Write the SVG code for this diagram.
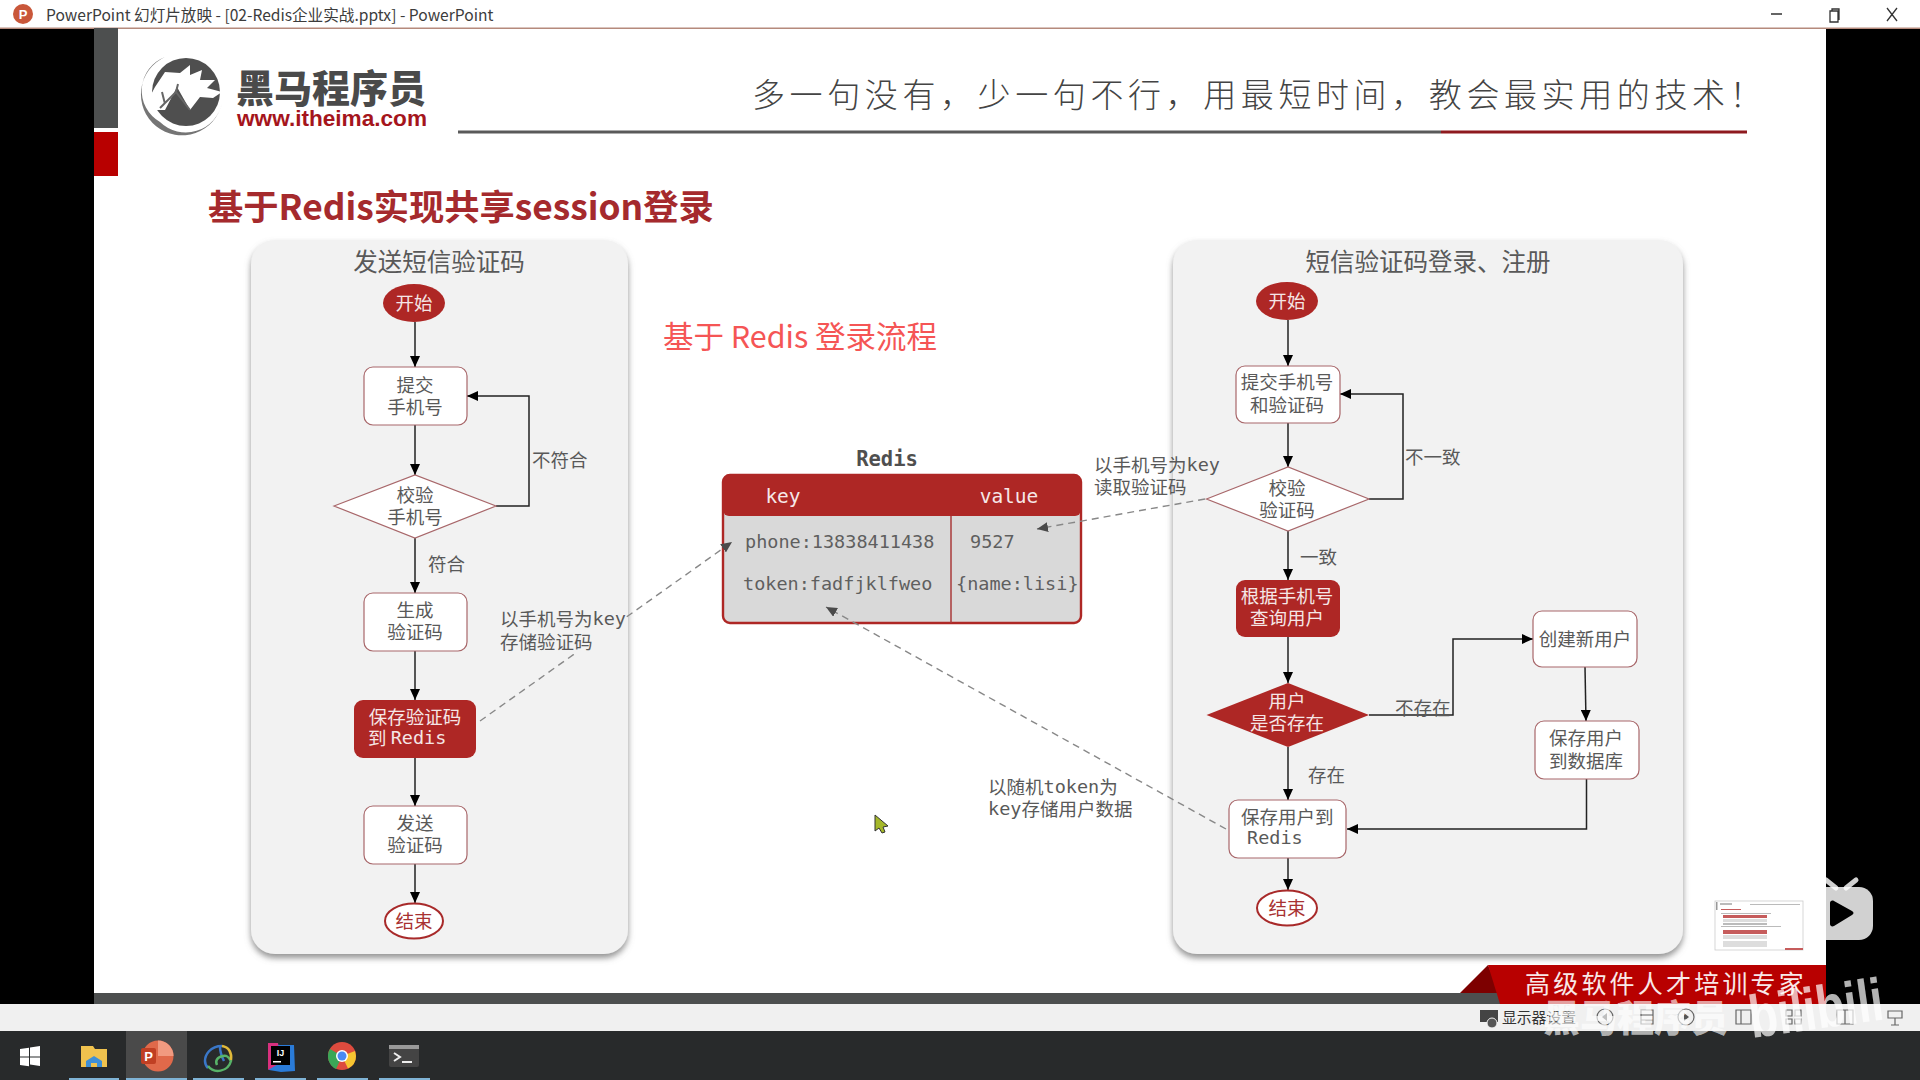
<svg xmlns="http://www.w3.org/2000/svg" width="1920" height="1080" viewBox="0 0 1920 1080">
<style>
text{font-family:"Liberation Sans","Noto Sans CJK SC",sans-serif}
.cjk{font-family:"Noto Sans CJK SC",sans-serif}
.m{text-anchor:middle;dominant-baseline:central}
.l{dominant-baseline:central}
.t{font-family:"Noto Sans CJK SC",sans-serif;font-size:18.5px;fill:#595959;transform:translateY(-1px)}
.w{fill:#f5e6e6}
.mono{font-family:"DejaVu Sans Mono",monospace;font-size:18.5px;fill:#5f5f5f;transform:translateY(-1px)}
.box{fill:#fff;stroke:#a8676a;stroke-width:1.2}
.red{fill:#ae2725}
.panel{fill:#f2f2f2;filter:url(#sh)}
.c{fill:none;stroke:#222;stroke-width:1.5}
.d{fill:none;stroke:#888;stroke-width:1.4;stroke-dasharray:7 5}
</style>
<defs>
<filter id="sh" x="-5%" y="-5%" width="110%" height="110%"><feDropShadow dx="0" dy="4" stdDeviation="3" flood-color="#777" flood-opacity=".8"/></filter>
<marker id="a" markerWidth="12" markerHeight="10" refX="11" refY="5" orient="auto" markerUnits="userSpaceOnUse"><path d="M0 0L11 5L0 10z" fill="#000"/></marker>
<marker id="g" markerWidth="12" markerHeight="10" refX="11" refY="5" orient="auto" markerUnits="userSpaceOnUse"><path d="M0 0L11 5L0 10z" fill="#4a4a4a"/></marker>
</defs>
<rect width="1920" height="1080" fill="#000"/>
<rect x="94" y="28" width="1732" height="965" fill="#fff"/>

<g id="titlebar">
<rect width="1920" height="28" fill="#fff"/>
<rect y="27.5" width="1920" height="1.5" fill="#b58a7c"/>
<circle cx="23" cy="14" r="10" fill="#c9573a"/>
<text x="23" y="14.5" class="m" font-size="13" font-weight="700" fill="#fff">P</text>
<text x="46" y="13.500" class="l cjk" font-size="15.6" fill="#3c3c3c">PowerPoint 幻灯片放映 - [02-Redis企业实战.pptx] - PowerPoint</text>
<path d="M1771 14h11M1830 11h8v11h-8zM1832 11v-2h7v11M1887 8l10 13M1897 8l-10 13" fill="none" stroke="#333" stroke-width="1.3"/>
</g>

<g id="slide-header">
<rect x="94" y="28" width="24" height="100" fill="#4d4f4f"/>
<rect x="94" y="132" width="24" height="44" fill="#b80000"/>
<g id="logo">
<path fill-rule="evenodd" d="M165 57A41 41 0 1 0 222 103A37 37 0 0 1 160 122A36 36 0 0 1 165 57z" fill="#757575"/>
<circle cx="186" cy="92" r="34" fill="#4f4f4f"/>
<path d="M147 102L155 87L165 72L180 73L190 65L190 75L202 70L200 80L215 80L207 88L222 92L213 98L200 97L190 110L177 87L165 110L150 110z" fill="#fff"/>
<path d="M160 108L176 92L178 84M176 92L190 110M165 104L162 92" fill="none" stroke="#666" stroke-width="2"/>
<text x="236" y="85" class="l cjk" font-size="38" font-weight="900" fill="#4a4a4a">黑马程序员</text>
<text x="237" y="118" class="l" font-size="22.600" font-weight="700" fill="#a5151c">www.itheima.com</text>
</g>
<text x="752" y="93" class="l cjk" font-size="33" font-weight="300" letter-spacing="4.600" fill="#444">多一句没有，少一句不行，用最短时间，教会最实用的技术！</text>
<rect x="458" y="130.500" width="983" height="3" fill="#5a5a5a"/>
<rect x="1441" y="130.500" width="306" height="3" fill="#8e1a1f"/>
<text x="208" y="204" class="l cjk" font-size="35.300" font-weight="700" fill="#a52a2d">基于Redis实现共享session登录</text>
</g>

<rect id="panel-left" x="251" y="240" width="377" height="714" rx="24" class="panel"/>
<rect id="panel-right" x="1173" y="240" width="510" height="714" rx="24" class="panel"/>

<text x="439" y="260" class="m cjk" font-size="24.500" fill="#595959">发送短信验证码</text>
<text x="1428" y="260" class="m cjk" font-size="24.500" fill="#595959">短信验证码登录、注册</text>
<text x="800" y="335" class="m cjk" font-size="30.500" fill="#f55555">基于 Redis 登录流程</text>

<g id="connectors">
<path class="c" marker-end="url(#a)" d="M415 322V367"/>
<path class="c" marker-end="url(#a)" d="M415 425V475"/>
<path class="c" marker-end="url(#a)" d="M496 506H529V396H467"/>
<path class="c" marker-end="url(#a)" d="M415 538V593"/>
<path class="c" marker-end="url(#a)" d="M415 651V700"/>
<path class="c" marker-end="url(#a)" d="M415 758V806"/>
<path class="c" marker-end="url(#a)" d="M415 864V903"/>
<path class="c" marker-end="url(#a)" d="M1288 320V366"/>
<path class="c" marker-end="url(#a)" d="M1288 423V467"/>
<path class="c" marker-end="url(#a)" d="M1369 499H1403V394H1340"/>
<path class="c" marker-end="url(#a)" d="M1288 531V580"/>
<path class="c" marker-end="url(#a)" d="M1288 637V683"/>
<path class="c" marker-end="url(#a)" d="M1369 715H1453V639H1533"/>
<path class="c" marker-end="url(#a)" d="M1288 747V800"/>
<path class="c" marker-end="url(#a)" d="M1585 667L1586 721"/>
<path class="c" marker-end="url(#a)" d="M1586.500 779V829H1347"/>
<path class="c" marker-end="url(#a)" d="M1288 858V890"/>
</g>

<g id="n-start1"><ellipse cx="414" cy="303" rx="31" ry="19" class="red"/><text x="414" y="303" class="m t w">开始</text></g>
<g id="n-submit1"><rect x="364" y="367" width="103" height="58" rx="9" class="box"/><text x="415" y="385" class="m t">提交</text><text x="415" y="407" class="m t">手机号</text></g>
<g id="n-check1"><path d="M334 506L415 475L496 506L415 538z" class="box"/><text x="415" y="495" class="m t">校验</text><text x="415" y="517" class="m t">手机号</text></g>
<g id="n-gen"><rect x="364" y="593" width="103" height="58" rx="9" class="box"/><text x="415" y="610" class="m t">生成</text><text x="415" y="632" class="m t">验证码</text></g>
<g id="n-save1"><rect x="354" y="700" width="122" height="58" rx="9" class="red"/><text x="415" y="717" class="m t w">保存验证码</text><text x="368" y="738" class="l t w">到 <tspan font-family="DejaVu Sans Mono">Redis</tspan></text></g>
<g id="n-send"><rect x="364" y="806" width="103" height="58" rx="9" class="box"/><text x="415" y="823" class="m t">发送</text><text x="415" y="845" class="m t">验证码</text></g>
<g id="n-end1"><ellipse cx="414" cy="921" rx="29" ry="17.500" fill="#fff" stroke="#a82a2a" stroke-width="2"/><text x="414" y="921" class="m t" style="fill:#a83232">结束</text></g>

<text x="529" y="460" class="l t" dx="3">不符合</text>
<text x="428" y="564" class="l t">符合</text>

<g id="redis">
<text x="887" y="460" class="m mono" font-weight="700" style="font-size:20.500px;fill:#4f4f4f">Redis</text>
<rect x="723" y="475" width="358" height="148" rx="7" fill="#d9d9d9" stroke="#ae2725" stroke-width="2.400"/>
<path d="M723 510V482a7 7 0 0 1 7-7h344a7 7 0 0 1 7 7v28a6 6 0 0 1-6 6H729a6 6 0 0 1-6-6z" class="red"/>
<path d="M951 516V623" stroke="#a83a3a" stroke-width="1.500"/>
<text x="783" y="497" class="m mono" style="font-size:19.500px;fill:#f6e8e8">key</text>
<text x="1009" y="497" class="m mono" style="font-size:19.500px;fill:#f6e8e8">value</text>
<text x="745" y="542" class="l mono">phone:13838411438</text>
<text x="743" y="584" class="l mono">token:fadfjklfweo</text>
<text x="970" y="542" class="l mono">9527</text>
<text x="956" y="584" class="l mono">{name:lisi}</text>
</g>

<g id="connectors-dashed">
<path class="d" marker-end="url(#g)" d="M480 721L732 542"/>
<path class="d" marker-end="url(#g)" d="M1205 499L1037 529"/>
<path class="d" marker-end="url(#g)" d="M1226 829L826 607"/>
</g>

<g id="label-store"><rect x="500" y="608" width="125" height="46" fill="#f2f2f2"/>
<text x="500" y="619" class="l t">以手机号为<tspan font-family="DejaVu Sans Mono">key</tspan></text><text x="500" y="642" class="l t">存储验证码</text></g>
<g id="label-read"><text x="1094" y="465" class="l t">以手机号为<tspan font-family="DejaVu Sans Mono">key</tspan></text><text x="1094" y="487" class="l t">读取验证码</text></g>
<g id="label-token"><text x="988" y="787" class="l t">以随机<tspan font-family="DejaVu Sans Mono">token</tspan>为</text><text x="988" y="809" class="l t"><tspan font-family="DejaVu Sans Mono">key</tspan>存储用户数据</text></g>

<g id="n-start2"><ellipse cx="1287" cy="301" rx="31" ry="19" class="red"/><text x="1287" y="301" class="m t w">开始</text></g>
<g id="n-submit2"><rect x="1236" y="366" width="104" height="57" rx="9" class="box"/><text x="1287" y="382" class="m t">提交手机号</text><text x="1287" y="405" class="m t">和验证码</text></g>
<g id="n-check2"><path d="M1206.500 499L1288 467L1369 499L1288 531z" class="box"/><text x="1287" y="488" class="m t">校验</text><text x="1287" y="510" class="m t">验证码</text></g>
<g id="n-query"><rect x="1236" y="580" width="104" height="57" rx="9" class="red"/><text x="1287" y="596" class="m t w">根据手机号</text><text x="1287" y="618" class="m t w">查询用户</text></g>
<g id="n-exists"><path d="M1206.500 715L1288 683L1369 715L1288 747z" class="red"/><text x="1287" y="701" class="m t w">用户</text><text x="1287" y="723" class="m t w">是否存在</text></g>
<g id="n-create"><rect x="1533" y="611" width="104" height="56" rx="9" class="box"/><text x="1585" y="639" class="m t">创建新用户</text></g>
<g id="n-savedb"><rect x="1535" y="721" width="104" height="58" rx="9" class="box"/><text x="1586" y="738" class="m t">保存用户</text><text x="1586" y="761" class="m t">到数据库</text></g>
<g id="n-save2"><rect x="1229" y="800" width="117" height="58" rx="9" class="box"/><text x="1241" y="817" class="l t">保存用户到</text><text x="1247" y="838" class="l t" style="font-family:'DejaVu Sans Mono'">Redis</text></g>
<g id="n-end2"><ellipse cx="1287" cy="908" rx="30" ry="17.500" fill="#fff" stroke="#a82a2a" stroke-width="2"/><text x="1287" y="908" class="m t" style="fill:#a83232">结束</text></g>
<text x="1405" y="457" class="l t">不一致</text>
<text x="1300" y="557" class="l t">一致</text>
<text x="1395" y="708" class="l t">不存在</text>
<text x="1308" y="775" class="l t">存在</text>

<g id="thumb"><rect x="1715" y="901" width="88" height="49" fill="#fff" stroke="#ccc" stroke-width=".8"/><rect x="1716" y="902" width="1.500" height="8" fill="#999"/><g fill="#bbb"><rect x="1720" y="903" width="12" height="2"/><rect x="1750" y="904" width="50" height="1"/><rect x="1721" y="913" width="50" height="1"/><rect x="1723" y="923" width="44" height="2"/><rect x="1721" y="926" width="60" height="1"/></g><g fill="#c65c5c"><rect x="1721" y="909" width="20" height="1"/><rect x="1723" y="915" width="44" height="3"/><rect x="1723" y="930" width="44" height="4"/><rect x="1785" y="948" width="18" height="2"/></g><g fill="#ddd"><rect x="1723" y="919" width="44" height="3"/><rect x="1723" y="935" width="44" height="4"/><rect x="1723" y="941" width="44" height="6"/></g></g>

<g id="footer">
<rect x="94" y="993" width="1732" height="11" fill="#4d4f4f"/>
<path d="M1460 993L1488 965L1500 993z" fill="#7d0000"/>
<path d="M1488 965H1826V1004H1500z" fill="#b80000"/>
<text x="1525" y="982" class="l cjk" font-size="25" letter-spacing="3.200" fill="#f8e8e8">高级软件人才培训专家</text>
</g>

<g id="status-bar">
<rect y="1004" width="1920" height="27" fill="#f0f0f0"/>
<path d="M1480 1010h18v12h-18z" fill="#444"/><circle cx="1492" cy="1023" r="5" fill="#555" stroke="#f0f0f0"/>
<text x="1502" y="1016" class="l cjk" font-size="14.800" fill="#333">显示器设置</text>
<g fill="none" stroke="#666" stroke-width="1.200">
<circle cx="1605" cy="1017" r="8"/><circle cx="1686" cy="1017" r="8"/>
<path d="M1641 1010h12v14h-12zM1641 1015h12M1641 1020h12M1736 1010h15v14h-15zM1741 1010v14M1786 1010h6v6h-6zM1795 1010h6v6h-6zM1786 1019h6v5h-6zM1795 1019h6v5h-6zM1837 1010h16v14h-16zM1845 1010v14M1888 1011h14v7h-14zM1895 1018v7M1891 1025h8"/>
</g>
<path d="M1602 1017l5-4v8zM1689 1017l-5-4v8z" fill="#555"/>
</g>

<g id="taskbar">
<rect y="1031" width="1920" height="49" fill="#282a2b"/>
<rect x="126" y="1031" width="61" height="49" fill="#4a4a4a"/>
<path d="M20 1049l9-1.300v8.800h-9zM30 1047.500l10-1.500v10.500h-10zM20 1057.500h9v8.700l-9-1.300zM30 1057.500h10v8.500l-10-1.500z" fill="#fff"/>
<path d="M81 1046h12l2 3h12v18H81z" fill="#f0c24e"/><path d="M86 1067v-6l8-5 8 5v6h-5v-4h-6v4z" fill="#3f8fd6"/>
<circle cx="158" cy="1056" r="15.500" fill="#e0694a"/><path d="M158 1056v-15.500a15.500 15.500 0 0 1 15.500 15.500z" fill="#f19a80"/><rect x="141" y="1048" width="15" height="16" rx="2" fill="#c03f23"/><text x="148.500" y="1056.500" class="m" font-size="13" font-weight="700" fill="#fff">P</text>
<g fill="none" stroke-width="2.500"><path d="M222 1046c-12 0-17 9-17 15 0 3 1 5 3 7" stroke="#3a77c8"/><path d="M220 1047c0 6 2 10 4 14" stroke="#3a77c8"/><path d="M208 1066c6 8 20 6 23-5-3-5-5-6-8-5-6 1-8 5-6 9" stroke="#58b368"/><path d="M222 1046c7 1 10 7 9 14" stroke="#e0b93a"/></g>
<path d="M268 1043l12 2 14 0 1 26-14 1-12-2z" fill="#2a7bd8"/><path d="M268 1043l10 0 2 20-12 7z" fill="#d8307e"/><rect x="271" y="1046" width="19" height="19" fill="#000"/><text x="280.500" y="1053" class="m" font-size="9" font-weight="700" fill="#fff">IJ</text><rect x="273" y="1061" width="8" height="1.500" fill="#fff"/>
<circle cx="342" cy="1056" r="14" fill="#dd4b3e"/><path d="M342 1056l-12-7a14 14 0 0 0 6 20z" fill="#3aa757"/><path d="M342 1056l6 12.600a14 14 0 0 0 8-12.600l-1-5z" fill="#f7c531"/><circle cx="342" cy="1056" r="6" fill="#fff"/><circle cx="342" cy="1056" r="4.500" fill="#4a8af4"/>
<rect x="389" y="1045" width="30" height="22" rx="2" fill="#444"/><rect x="389" y="1045" width="30" height="4" fill="#999"/><path d="M394 1053l6 4-6 4" fill="none" stroke="#eee" stroke-width="2"/><rect x="402" y="1061" width="10" height="2" fill="#eee"/>
<g fill="#7fb3d5"><rect x="69" y="1078" width="50" height="2"/><rect x="126" y="1078" width="61" height="2"/><rect x="193" y="1078" width="51" height="2"/><rect x="255" y="1078" width="51" height="2"/><rect x="317" y="1078" width="51" height="2"/><rect x="379" y="1078" width="51" height="2"/></g>
</g>

<g id="watermark">
<path d="M1807 901a14 14 0 0 1 14-14h38a14 14 0 0 1 14 14v25a14 14 0 0 1-14 14h-38a14 14 0 0 1-14-14z" fill="#fff" fill-opacity=".82"/>
<path d="M1826 880l10 8M1856 880l-10 8" stroke="#fff" stroke-opacity=".82" stroke-width="5" stroke-linecap="round"/>
<path d="M1830 903c0-2 2-3 4-2l18 10c2 1 2 3 0 4l-18 11c-2 1-4 0-4-2z" fill="#000"/>
<text x="1543" y="1016" class="l cjk" font-size="37" font-weight="900" fill="#fff" fill-opacity=".65">黑马程序员</text>
<text x="1752" y="1038" font-size="60" font-weight="700" textLength="135" lengthAdjust="spacingAndGlyphs" fill="#fff" fill-opacity=".7" transform="rotate(-8 1752 1038)" style="font-family:'Liberation Sans'">bilibili</text>
</g>

<path id="cursor" d="M875 815v16l4-3 3 5 3-1-2-5 5-1z" fill="#a5b82a" stroke="#333"/>
</svg>
